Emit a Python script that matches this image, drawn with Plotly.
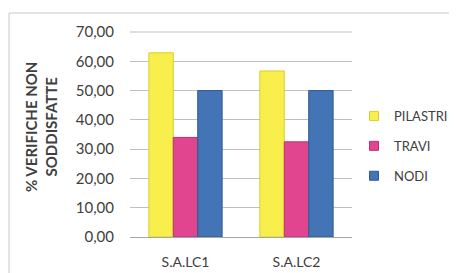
import plotly.graph_objects as go

categories = ["S.A.LC1", "S.A.LC2"]
pilastri = [62.9, 56.7]
travi = [34.0, 32.5]
nodi = [50.0, 50.0]
series_names = ["PILASTRI", "TRAVI", "NODI"]
y_ticks = [0, 10, 20, 30, 40, 50, 60, 70]

colors = ["#F8EE4C", "#E2458F", "#4374B6"]
edges = ["#D9CE30", "#B8336F", "#2F5B94"]

fig = go.Figure()
for i, (name, vals) in enumerate(zip(series_names, [pilastri, travi, nodi])):
    fig.add_trace(go.Bar(
        x=categories, y=vals, name=name, legendgroup=name, showlegend=False,
        marker=dict(color=colors[i], line=dict(color=edges[i], width=1)),
    ))
    fig.add_trace(go.Scatter(
        x=[None], y=[None], mode="markers", name=name, legendgroup=name,
        marker=dict(symbol="square", size=9, color=colors[i],
                    line=dict(color=edges[i], width=1)),
    ))

# page is offset by the default 8px body margin
D = 8
W, H = 457 - D, 273 - D
L, R = 130 - D, W - (352 - D)
T, B = 32 - D, H - (237 - D)
pw, ph = W - L - R, H - T - B

def px(x):
    return (x - D - L) / pw

def py(y):
    return (H - B - (y - D)) / ph

fig.update_layout(
    width=W, height=H,
    margin=dict(l=L, r=R, t=T, b=B, autoexpand=False),
    paper_bgcolor="white", plot_bgcolor="white",
    barmode="group", bargap=0.34, bargroupgap=0,
    separators=",.",
    font=dict(family="Lato", color="#404040"),
    showlegend=True,
    legend=dict(
        x=px(354), y=py(101), xanchor="left", yanchor="top",
        font=dict(size=13, color="#404040"),
        traceorder="grouped", tracegroupgap=10,
        bgcolor="rgba(0,0,0,0)",
    ),
    xaxis=dict(
        automargin=False,
        showgrid=False, showline=False, ticks="outside", ticklen=12,
        tickcolor="rgba(0,0,0,0)",
        tickfont=dict(size=14, color="#404040"),
    ),
    yaxis=dict(
        automargin=False,
        range=[0, 70], tickvals=y_ticks, tickformat=".2f",
        showgrid=True, gridcolor="#BFBFBF", gridwidth=1,
        zeroline=True, zerolinecolor="#A6A6A6", zerolinewidth=1,
        showline=False, ticks="outside", ticklen=12,
        tickcolor="rgba(0,0,0,0)",
        tickfont=dict(size=15, color="#404040"),
    ),
    shapes=[
        dict(type="rect", xref="paper", yref="paper",
             x0=px(9), x1=px(470), y0=py(280), y1=py(13),
             line=dict(color="#C8C8C8", width=1), fillcolor="rgba(0,0,0,0)",
             layer="below"),
        dict(type="line", xref="paper", yref="paper",
             x0=0, x1=1, y0=1, y1=1, line=dict(color="#BFBFBF", width=1)),
    ],
    annotations=[
        dict(text="<b>% VERIFICHE NON<br>SODDISFATTE</b>", textangle=-90,
             xref="paper", yref="paper", x=px(41), y=py(127),
             xanchor="center", yanchor="middle", showarrow=False,
             font=dict(size=15, color="#404040")),
    ],
)

fig.write_html("out.html")
